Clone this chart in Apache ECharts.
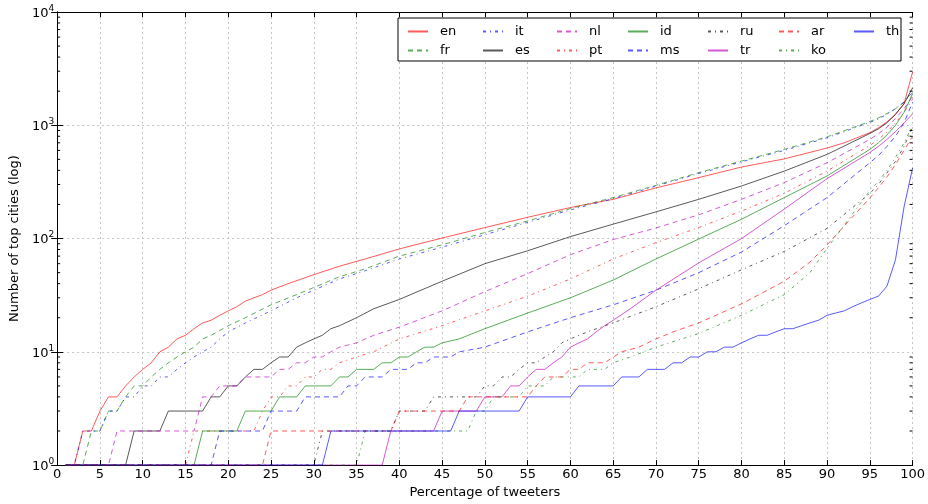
<!DOCTYPE html>
<html>
<head>
<meta charset="utf-8">
<script src="https://cdn.jsdelivr.net/npm/echarts@6.0.0/dist/echarts.min.js"></script>
<style>
  html, body { margin: 0; padding: 0; background: #fff; }
  #main { width: 928px; height: 504px; }
</style>
</head>
<body>
<div id="main"></div>
<script>
// [percentage of tweeters, number of top cities]
let en = [[1,1],[2,1],[3,2],[4,2],[5,3],[6,4],[7,4],[8,5],[9,6],[10,7],[11,8],[12,10],[13,11],[14,13],[15,14],[16,16],[17,18],[18,19],[19,21],[20,23],[21,25],[22,28],[23,30],[24,32],[25,35],[27,40],[30,48],[33,57],[36,66],[40,81],[45,101],[50,125],[55,154],[60,188],[65,222],[70,280],[75,345],[80,428],[85,505],[90,630],[92,700],[95,860],[96,950],[97,1070],[98,1250],[99,1550],[100,2950]];
let fr = [[1,1],[3,1],[4,2],[5,2],[6,3],[7,3],[8,4],[9,5],[10,5],[11,6],[12,7],[13,8],[14,9],[15,10],[16,11],[17,13],[18,14],[20,17],[22,20],[25,26],[28,32],[30,37],[33,46],[36,54],[40,70],[45,88],[50,113],[55,143],[60,184],[65,230],[70,295],[75,382],[80,483],[85,612],[90,790],[95,1080],[96,1160],[97,1270],[98,1400],[99,1600],[100,2000]];
let it = [[1,1],[2,1],[3,2],[5,2],[6,3],[7,3],[8,4],[9,4],[10,5],[11,5],[12,6],[13,6],[14,7],[15,8],[16,9],[17,10],[18,11],[19,13],[20,15],[22,18],[25,23],[28,30],[30,35],[33,44],[36,52],[40,66],[45,84],[50,108],[55,139],[60,179],[65,225],[70,290],[75,375],[80,475],[85,600],[90,775],[95,1060],[96,1140],[97,1250],[98,1400],[99,1600],[100,1950]];
let es = [[1,1],[8,1],[9,2],[12,2],[13,3],[17,3],[18,4],[19,4],[20,5],[21,5],[22,6],[23,7],[24,7],[25,8],[26,9],[27,9],[28,11],[29,12],[30,13],[31,14],[32,16],[33,17],[35,20],[37,24],[40,29],[45,42],[50,60],[55,78],[60,104],[65,134],[70,172],[75,222],[80,291],[85,394],[90,553],[95,846],[96,930],[97,1050],[98,1250],[99,1550],[100,2140]];
let nl = [[1,1],[6,1],[7,2],[16,2],[17,4],[18,4],[19,5],[21,5],[22,6],[25,6],[26,7],[27,7],[28,8],[29,8],[30,9],[31,9],[32,10],[33,11],[35,12],[37,14],[40,16.5],[45,23],[50,34],[55,49],[60,72],[65,98],[70,124],[75,162],[80,222],[85,312],[90,467],[95,750],[96,840],[97,960],[98,1150],[99,1400],[100,1800]];
let pt = [[1,1],[15,1],[16,2],[23,2],[24,3],[25,4],[26,4],[27,5],[28,5],[29,6],[30,6],[31,7],[32,7],[33,8],[35,9],[37,10],[40,13],[45,17],[50,23],[55,31],[60,44],[65,66],[70,92],[75,125],[80,175],[85,251],[90,394],[95,663],[96,750],[97,870],[98,1050],[99,1300],[100,1700]];
let id = [[1,1],[16,1],[17,2],[21,2],[22,3],[25,3],[26,4],[28,4],[29,5],[32,5],[33,6],[34,6],[35,7],[37,7],[38,8],[39,8],[40,9],[41,9],[42,10],[43,11],[44,11],[45,12],[47,13],[50,16],[55,22],[60,30],[65,43],[70,66],[75,99],[80,148],[85,230],[90,357],[95,612],[96,700],[97,820],[98,1000],[99,1300],[100,1900]];
let ms = [[1,1],[18,1],[19,2],[24,2],[25,3],[28,3],[29,4],[33,4],[34,5],[35,5],[36,6],[38,6],[39,7],[41,7],[42,8],[43,8],[44,9],[46,9],[47,10],[50,11],[55,15],[60,20],[65,26],[70,35],[75,50],[80,76],[85,130],[90,230],[95,467],[96,540],[97,650],[98,800],[99,1050],[100,1600]];
let ru = [[1,1],[30,1],[31,2],[39,2],[40,3],[43,3],[44,4],[49,4],[50,5],[51,5],[52,6],[53,6],[54,7],[55,8],[56,8],[57,9],[58,10],[59,12],[60,13],[62,15],[65,18],[70,25],[75,36],[80,53],[85,77],[90,123],[95,250],[96,300],[97,380],[98,480],[99,650],[100,960]];
let tr = [[1,1],[38,1],[39,2],[44,2],[45,3],[49,3],[50,4],[52,4],[53,5],[54,5],[55,6],[56,7],[57,7],[58,8],[59,9],[60,11],[61,12],[62,13],[63,15],[64,17],[65,19],[67,24],[70,35],[75,61],[80,100],[85,182],[90,338],[95,575],[96,650],[97,750],[98,880],[99,1050],[100,1260]];
let ar = [[1,1],[24,1],[25,2],[39,2],[40,3],[47,3],[48,4],[55,4],[56,5],[57,6],[59,6],[60,7],[61,7],[62,8],[64,8],[65,9],[66,10],[68,11],[70,13],[72,15],[75,18],[80,26.5],[85,42],[88,62],[90,88],[95,228],[96,280],[97,350],[98,450],[99,600],[100,800]];
let ko = [[1,1],[35,1],[36,2],[48,2],[49,3],[50,3],[51,4],[54,4],[55,5],[57,5],[58,6],[61,6],[62,7],[64,7],[65,8],[67,9],[70,11],[75,14.5],[80,21],[85,32],[88,50],[90,82],[95,265],[96,320],[97,400],[98,520],[99,700],[100,1000]];
let th = [[1,1],[31,1],[32,2],[46,2],[47,3],[54,3],[55,4],[60,4],[61,5],[65,5],[66,6],[68,6],[69,7],[71,7],[72,8],[73,8],[74,9],[75,9],[76,10],[77,10],[78,11],[79,11],[80,12],[81,13],[82,14],[83,14],[84,15],[85,16],[86,16],[87,17],[88,18],[89,19],[90,21],[91,22],[92,23],[93,25],[94,27],[95,29],[96,31],[97,38],[98,65],[99,190],[100,420]];

let langs = ['en','fr','it','es','nl','pt','id','ms','ru','tr','ar','ko','th'];
let langData = [en, fr, it, es, nl, pt, id, ms, ru, tr, ar, ko, th];

// minor ticks of the log axis
let minorTicks = [2,3,4,5,6,7,8,9,20,30,40,50,60,70,80,90,200,300,400,500,600,700,800,900,2000,3000,4000,5000,6000,7000,8000,9000];

// matplotlib style cycle: colours r g b k m, line styles - -- -.
let colors = ['rgba(255,0,0,0.65)','rgba(0,128,0,0.65)','rgba(0,0,255,0.65)','rgba(0,0,0,0.65)','rgba(191,0,191,0.65)'];
let dashes = ['solid', [5,4], [3,4,1,4]];

let font = 'DejaVu Sans';
let gridColor = '#c4c4c4';

let series = [];
for(let i = 0; i < langs.length; i++){
    series.push({
        name: langs[i],
        type: 'line',
        data: langData[i],
        showSymbol: false,
        symbol: 'none',
        color: colors[i % 5],
        lineStyle: {width: 1, color: colors[i % 5], type: dashes[i % 3]},
        emphasis: {disabled: true},
        z: 2
    });
}
series.push({
    type: 'custom',
    silent: true,
    z: 3,
    data: minorTicks.map(v => [0, v]),
    renderItem: function(params, api){
        let l = api.coord([0, api.value(1)]);
        let r = api.coord([100, api.value(1)]);
        return {
            type: 'group',
            children: [
                {type: 'line', shape: {x1: l[0], y1: l[1], x2: l[0] + 3, y2: l[1]}, style: {stroke: '#000', lineWidth: 1}},
                {type: 'line', shape: {x1: r[0] - 3, y1: r[1], x2: r[0], y2: r[1]}, style: {stroke: '#000', lineWidth: 1}}
            ]
        };
    }
});

// legend is laid out in columns like matplotlib's ncol=7
let legendCols = [['en','fr'],['it','es'],['nl','pt'],['id','ms'],['ru','tr'],['ar','ko'],['th']];
let legendLeft = [407, 482, 556, 627, 707, 778, 853];
let legends = legendCols.map(function(col, i){
    return {
        data: col,
        orient: 'vertical',
        left: legendLeft[i],
        top: 25,
        itemWidth: 20,
        itemHeight: 10,
        itemGap: 6,
        padding: 0,
        selectedMode: false,
        itemStyle: {color: 'rgba(0,0,0,0)', borderWidth: 0, opacity: 0},
        textStyle: {fontFamily: font, fontSize: 13, color: '#000', padding: [0, 0, 0, 7]}
    };
});

let myChart = echarts.init(document.getElementById('main'));
let option = {
    animation: false,
    backgroundColor: '#fff',
    textStyle: {fontFamily: font},
    grid: {left: 53, right: 14, top: 12, bottom: 37},
    legend: legends,
    graphic: [{
        type: 'rect',
        z: 3,
        shape: {x: 398, y: 18, width: 503, height: 43},
        style: {fill: '#fff', stroke: '#000', lineWidth: 1}
    }],
    xAxis: [{
        type: 'value',
        min: 0,
        max: 100,
        interval: 5,
        name: 'Percentage of tweeters',
        nameLocation: 'middle',
        nameGap: 18,
        nameTextStyle: {fontFamily: font, fontSize: 13, color: '#000'},
        axisLine: {lineStyle: {color: '#000', width: 1}},
        axisTick: {inside: true, length: 5, lineStyle: {color: '#000'}},
        axisLabel: {fontFamily: font, fontSize: 13, color: '#000', margin: 3},
        splitLine: {show: true, lineStyle: {color: gridColor, type: [2, 3], width: 1}}
    }, {
        type: 'value',
        position: 'top',
        min: 0,
        max: 100,
        interval: 5,
        axisLine: {show: true, lineStyle: {color: '#000', width: 1}},
        axisTick: {inside: true, length: 5, lineStyle: {color: '#000'}},
        axisLabel: {show: false},
        splitLine: {show: false}
    }],
    yAxis: [{
        type: 'log',
        logBase: 10,
        min: 1,
        max: 10000,
        name: 'Number of top cities (log)',
        nameLocation: 'middle',
        nameGap: 24,
        nameTextStyle: {fontFamily: font, fontSize: 13, color: '#000'},
        axisLine: {show: true, lineStyle: {color: '#000', width: 1}},
        axisTick: {inside: true, length: 6, lineStyle: {color: '#000'}},
        axisLabel: {
            margin: 3,
            formatter: function(v){
                return '{b|10}{s|' + Math.round(Math.log10(v)) + '}';
            },
            rich: {
                b: {fontFamily: font, fontSize: 13, color: '#000', verticalAlign: 'bottom'},
                s: {fontFamily: font, fontSize: 9, color: '#000', verticalAlign: 'bottom', padding: [0, 0, 7, 0]}
            }
        },
        splitLine: {show: true, lineStyle: {color: gridColor, type: [2, 3], width: 1}}
    }, {
        type: 'log',
        logBase: 10,
        min: 1,
        max: 10000,
        position: 'right',
        axisLine: {show: true, lineStyle: {color: '#000', width: 1}},
        axisTick: {inside: true, length: 6, lineStyle: {color: '#000'}},
        axisLabel: {show: false},
        splitLine: {show: false}
    }],
    series: series
};
myChart.setOption(option);
</script>
</body>
</html>
